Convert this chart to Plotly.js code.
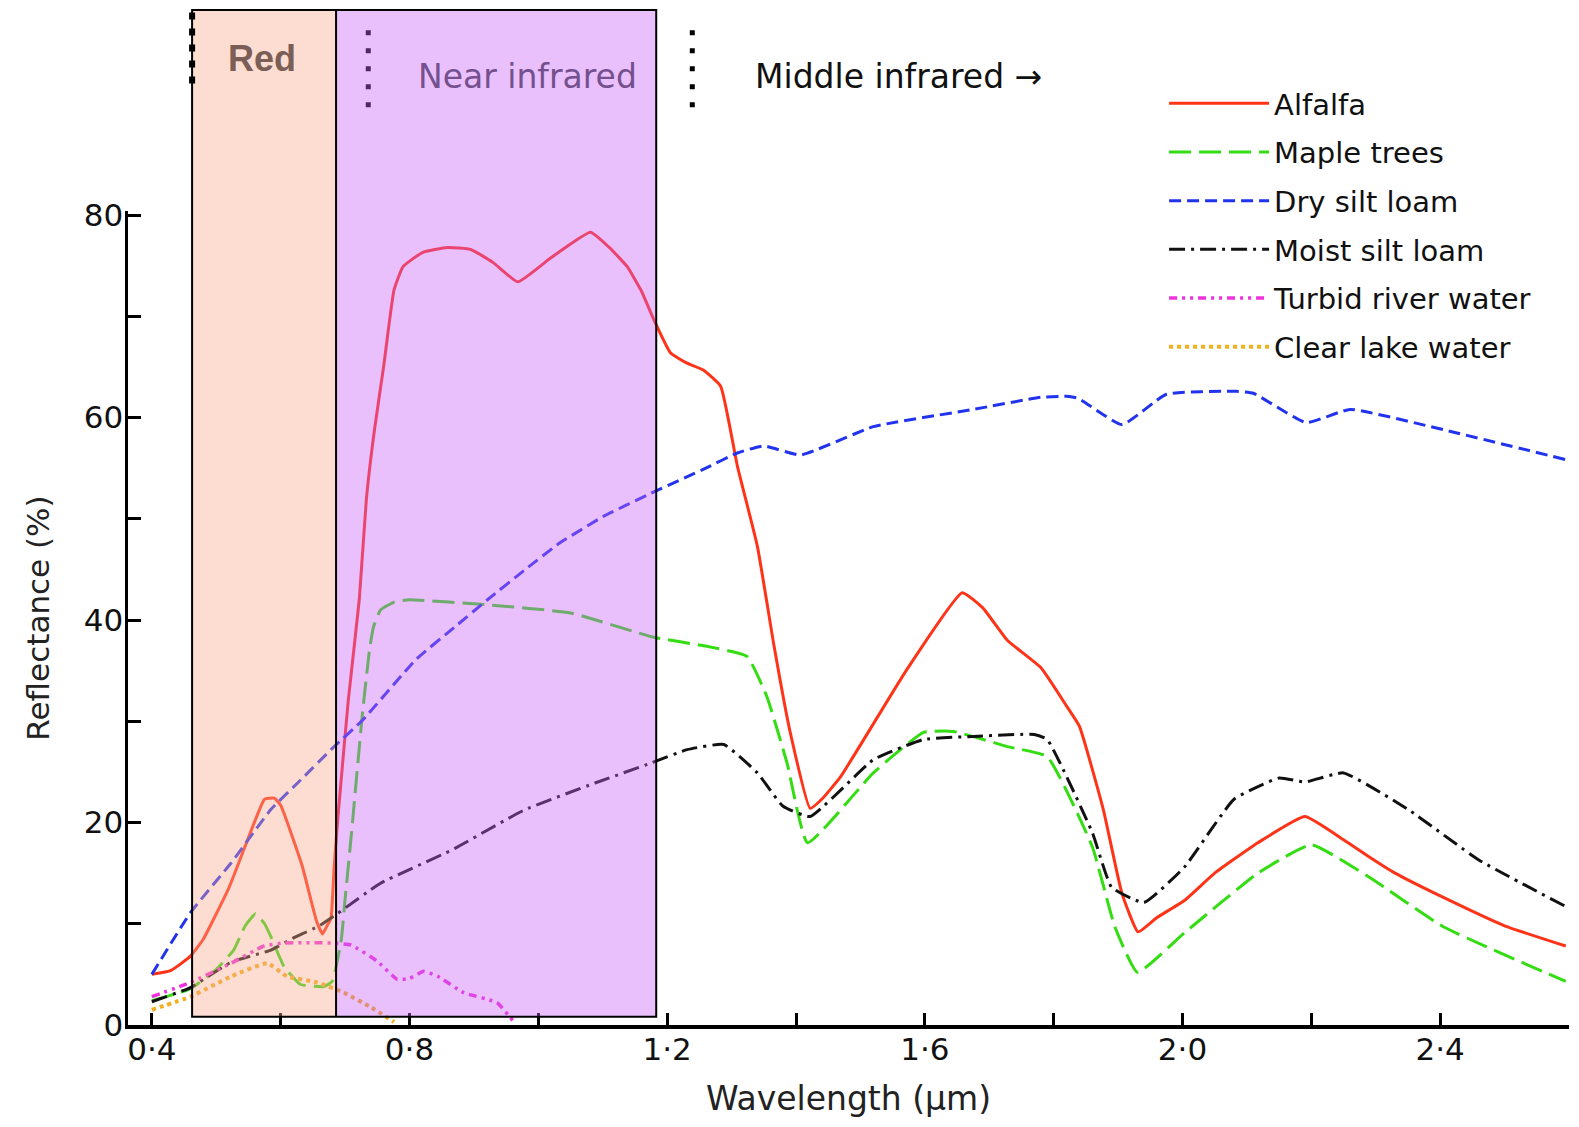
<!DOCTYPE html>
<html><head><meta charset="utf-8">
<script src="https://cdn.plot.ly/plotly-3.0.1.min.js"></script>
<style>html,body{margin:0;padding:0;background:#fff;}#chart{width:1579px;height:1127px;}</style>
</head><body><div id="chart"></div>
<script>
// Wavelength (µm) and reflectance (%)
const alfalfaX = [0.40,0.43,0.46,0.48,0.52,0.556,0.575,0.59,0.60,0.633,0.656,0.665,0.672,0.678,0.683,0.689,0.705,0.722,0.733,0.745,0.76,0.776,0.79,0.82,0.859,0.895,0.93,0.968,1.02,1.081,1.11,1.138,1.16,1.179,1.205,1.23,1.256,1.283,1.309,1.34,1.366,1.39,1.422,1.44,1.469,1.572,1.658,1.69,1.728,1.78,1.82,1.84,1.877,1.906,1.931,1.96,2.003,2.05,2.117,2.19,2.25,2.29,2.33,2.405,2.5,2.595];
const alfalfaY = [5.0,5.4,6.8,8.5,13.6,19.5,22.3,22.4,21.7,15.8,10.2,9.0,9.8,10.5,15.6,20.6,32.1,42.0,51.9,58.5,65.1,72.6,74.9,76.3,76.8,76.6,75.3,73.4,75.8,78.3,76.8,74.9,72.5,69.7,66.4,65.4,64.7,63.1,55.2,47.3,37.4,29.2,21.4,22.3,24.5,35.1,42.7,41.2,38.0,35.3,31.5,29.5,21.3,13.0,9.2,10.6,12.3,15.0,18.0,20.6,18.3,16.6,15.0,12.6,9.8,7.8];

const mapleX = [0.40,0.46,0.50,0.527,0.545,0.561,0.575,0.585,0.605,0.631,0.667,0.68,0.694,0.70,0.71,0.727,0.738,0.744,0.755,0.777,0.80,0.921,1.05,1.179,1.262,1.324,1.355,1.386,1.418,1.52,1.598,1.644,1.728,1.79,1.86,1.895,1.93,2.003,2.117,2.20,2.29,2.405,2.595];
const mapleY = [2.4,3.6,5.5,7.4,9.8,11.0,10.0,8.7,5.8,4.0,3.8,4.3,8.4,12.4,19.0,30.8,37.1,39.3,41.0,41.8,42.0,41.5,40.7,38.3,37.4,36.4,32.4,25.9,18.0,24.9,28.9,29.0,27.5,26.5,17.6,9.7,5.2,9.1,15.0,17.8,14.6,9.7,4.3];

const drySiltX = [0.40,0.46,0.523,0.585,0.631,0.683,0.727,0.81,0.87,0.921,0.98,1.033,1.10,1.171,1.26,1.309,1.35,1.407,1.52,1.675,1.78,1.82,1.838,1.906,1.975,2.083,2.11,2.192,2.26,2.405,2.598];
const drySiltY = [5.0,11.1,16.0,21.3,24.2,27.5,30.1,36.1,39.3,42.0,45.0,47.6,50.2,52.4,55.0,56.5,57.2,56.3,59.1,60.8,62.0,62.1,61.9,59.3,62.3,62.6,62.4,59.5,60.8,58.8,55.8];

const moistSiltX = [0.40,0.46,0.523,0.585,0.62,0.66,0.688,0.755,0.866,0.977,1.088,1.176,1.231,1.288,1.34,1.38,1.422,1.52,1.598,1.675,1.77,1.79,1.86,1.89,1.94,2.003,2.08,2.15,2.19,2.25,2.35,2.46,2.595];
const moistSiltY = [2.3,3.7,6.2,7.4,8.6,9.8,11.0,14.0,17.3,21.2,23.9,25.9,27.2,27.7,24.9,21.6,20.6,26.2,28.2,28.5,28.7,28.2,19.0,13.6,12.1,15.6,22.3,24.4,24.0,24.9,21.3,16.3,11.7];

const turbidX = [0.40,0.46,0.523,0.574,0.605,0.678,0.709,0.75,0.781,0.80,0.822,0.844,0.884,0.936,0.962];
const turbidY = [2.8,4.2,6.1,7.8,8.1,8.1,7.9,6.3,4.5,4.6,5.3,4.8,3.2,2.2,0.3];

const clearLakeX = [0.40,0.46,0.523,0.579,0.61,0.657,0.698,0.739,0.776];
const clearLakeY = [1.5,2.8,4.8,6.1,4.8,4.2,3.2,1.8,0.3];

const seriesNames = ['Alfalfa','Maple trees','Dry silt loam','Moist silt loam','Turbid river water','Clear lake water'];

const xTickVals = [0.4,0.6,0.8,1.0,1.2,1.4,1.6,1.8,2.0,2.2,2.4,2.6];
const xTickText = ['0·4','','0·8','','1·2','','1·6','','2·0','','2·4',''];
const yTickVals = [0,10,20,30,40,50,60,70,80];
const yTickText = ['0','','20','','40','','60','','80'];

// spectral band limits (µm)
const redBand = [0.4625, 0.686];
const nirBand = [0.686, 1.183];
const bandLabels = ['Red','Near infrared','Middle infrared →'];

const styles = [
  {color:'#ff3318', width:3, dash:'solid'},
  {color:'#33dd11', width:3, dash:'22px,8px'},
  {color:'#2233ee', width:3, dash:'12px,6px'},
  {color:'#111111', width:3, dash:'16px,6px,3px,6px'},
  {color:'#ee33dd', width:3.5, dash:'8px,5px,3px,5px,3px,5px'},
  {color:'#f2b01e', width:4, dash:'4px,4px'}
];
const xs = [alfalfaX, mapleX, drySiltX, moistSiltX, turbidX, clearLakeX];
const ys = [alfalfaY, mapleY, drySiltY, moistSiltY, turbidY, clearLakeY];

const traces = seriesNames.map((n,i)=>({
  type:'scatter', mode:'lines', name:n, x:xs[i], y:ys[i],
  legendgroup:'g'+i,
  line:{color:styles[i].color, width:styles[i].width, dash:styles[i].dash, shape:'spline', smoothing:0.4}
}));

const topY = 1.247, botY = 0.01;
const shapes = [
  {type:'line', xref:'x', yref:'paper', x0:0.736, x1:0.736, y0:1.222, y1:1.118, line:{color:'#000', width:5, dash:'5px,13px'}, layer:'above'},
  {type:'rect', xref:'x', yref:'paper', x0:redBand[0], x1:redBand[1], y0:botY, y1:topY, fillcolor:'rgb(250,167,142)', opacity:0.4, line:{width:0}, layer:'above'},
  {type:'rect', xref:'x', yref:'paper', x0:nirBand[0], x1:nirBand[1], y0:botY, y1:topY, fillcolor:'rgb(200,98,245)', opacity:0.4, line:{width:0}, layer:'above'},
  {type:'rect', xref:'x', yref:'paper', x0:redBand[0], x1:nirBand[1], y0:botY, y1:topY, line:{color:'#000', width:2}, layer:'above'},
  {type:'line', xref:'x', yref:'paper', x0:redBand[1], x1:redBand[1], y0:botY, y1:topY, line:{color:'#000', width:2}, layer:'above'},
  {type:'line', xref:'x', yref:'paper', x0:redBand[0], x1:redBand[0], y0:1.244, y1:1.153, line:{color:'#000', width:6, dash:'7px,9px'}, layer:'above'},
  {type:'line', xref:'x', yref:'paper', x0:1.239, x1:1.239, y0:1.222, y1:1.118, line:{color:'#000', width:5, dash:'5px,13px'}, layer:'above'}
];

const annotations = [
  {xref:'x', yref:'paper', x:0.5707, y:1.1874, text:bandLabels[0], showarrow:false, xanchor:'center', yanchor:'middle',
   font:{family:'Liberation Sans, Arial, sans-serif', size:36, color:'#7b5e55', weight:'bold'}},
  {xref:'x', yref:'paper', x:0.983, y:1.1653, text:bandLabels[1], showarrow:false, xanchor:'center', yanchor:'middle',
   font:{family:'DejaVu Sans, sans-serif', size:33, color:'#74508f'}},
  {xref:'x', yref:'paper', x:1.3325, y:1.1653, text:bandLabels[2], showarrow:false, xanchor:'left', yanchor:'middle',
   font:{family:'DejaVu Sans, sans-serif', size:33, color:'#111'}}
];

const layout = {
  width:1579, height:1127,
  margin:{l:128, r:10, t:211, b:102, autoexpand:false},
  paper_bgcolor:'#fff', plot_bgcolor:'rgba(0,0,0,0)',
  showlegend:true,
  legend:{x:0.719, xanchor:'left', y:1.1635, yanchor:'top', bgcolor:'rgba(0,0,0,0)',
    font:{family:'DejaVu Sans, sans-serif', size:29, color:'#111'}, tracegroupgap:8, itemwidth:100},
  xaxis:{range:[0.363,2.6], tickvals:xTickVals, ticktext:xTickText, ticks:'inside', ticklen:12, tickwidth:3, tickcolor:'#000',
    showline:true, linecolor:'#000', linewidth:3.5, showgrid:false, zeroline:false, ticklabelstandoff:-6,
    tickfont:{family:'DejaVu Sans, sans-serif', size:31, color:'#111'},
    title:{text:'Wavelength (μm)', standoff:22, font:{family:'DejaVu Sans, sans-serif', size:33, color:'#222'}}},
  yaxis:{range:[0,80.4], tickvals:yTickVals, ticktext:yTickText, ticks:'inside', ticklen:13, tickwidth:3, tickcolor:'#000',
    showline:true, linecolor:'#000', linewidth:3.5, showgrid:false, zeroline:false, ticklabelstandoff:-5,
    tickfont:{family:'DejaVu Sans, sans-serif', size:31, color:'#111'},
    title:{text:'Reflectance (%)', standoff:26, font:{family:'DejaVu Sans, sans-serif', size:31, color:'#222'}}},
  shapes:shapes, annotations:annotations, hovermode:false
};

Plotly.newPlot('chart', traces, layout, {displayModeBar:false, staticPlot:true});
</script>
</body></html>
